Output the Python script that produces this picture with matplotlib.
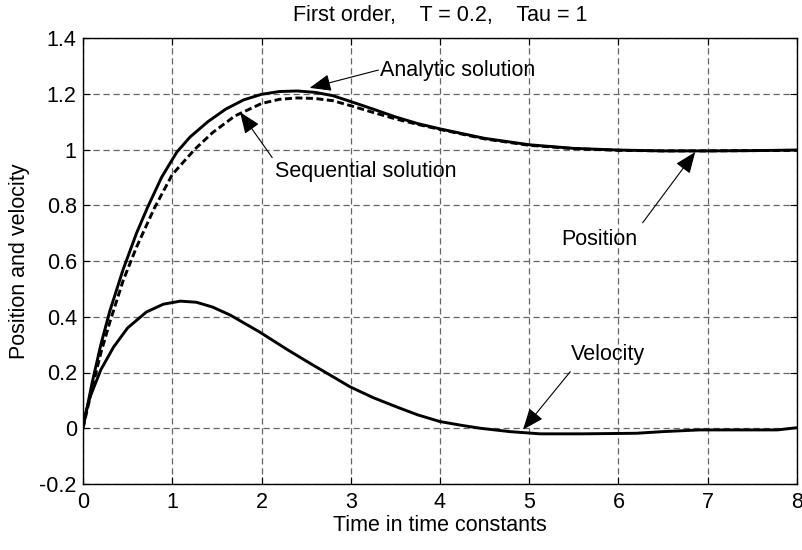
import matplotlib
matplotlib.use("Agg")
import matplotlib.pyplot as plt

plt.rcParams['font.family'] = ['Liberation Sans', 'DejaVu Sans']

# Data
t_pos = [0, 0.1, 0.2, 0.3, 0.45, 0.6, 0.72, 0.88, 1.05, 1.2, 1.4, 1.6, 1.8, 2.0, 2.2, 2.4,
         2.6, 2.8, 3.0, 3.25, 3.5, 3.75, 4.0, 4.5, 5.0, 5.5, 6.0, 6.5, 7.0, 7.5, 8.0]
pos_analytic = [0.0, 0.16, 0.30, 0.42, 0.57, 0.70, 0.79, 0.90, 0.99, 1.045, 1.10, 1.145,
                1.178, 1.198, 1.208, 1.21, 1.205, 1.193, 1.172, 1.145, 1.117, 1.093, 1.074,
                1.04, 1.017, 1.004, 0.998, 0.995, 0.995, 0.996, 0.998]
t_seq = [0, 0.1, 0.2, 0.3, 0.45, 0.6, 0.8, 1.0, 1.25, 1.45, 1.7, 2.0, 2.2, 2.4, 2.6, 2.8,
         3.0, 3.25, 3.5, 3.75, 4.0, 4.5, 5.0, 5.5, 6.0, 6.5, 7.0, 7.5, 8.0]
pos_sequential = [0.0, 0.14, 0.27, 0.38, 0.53, 0.65, 0.79, 0.91, 1.0, 1.06, 1.12, 1.165,
                  1.18, 1.185, 1.183, 1.175, 1.157, 1.133, 1.11, 1.09, 1.072, 1.038, 1.015,
                  1.003, 0.997, 0.995, 0.995, 0.996, 0.997]
t_vel = [0, 0.08, 0.2, 0.34, 0.5, 0.71, 0.9, 1.09, 1.27, 1.45, 1.65, 1.98, 2.3, 2.58, 2.8,
         2.99, 3.25, 3.51, 3.75, 4.0, 4.25, 4.45, 4.78, 5.12, 5.6, 6.2, 6.5, 6.91, 7.78, 8.0]
vel = [0.02, 0.113, 0.21, 0.29, 0.36, 0.417, 0.445, 0.456, 0.452, 0.435, 0.406, 0.345, 0.28,
       0.226, 0.185, 0.149, 0.11, 0.077, 0.048, 0.024, 0.01, 0.0, -0.012, -0.02, -0.02,
       -0.018, -0.012, -0.006, -0.006, 0.002]

title = "First order,    T = 0.2,    Tau = 1"
xlabel = "Time in time constants"
ylabel = "Position and velocity"
xticks = [0, 1, 2, 3, 4, 5, 6, 7, 8]
yticks = [-0.2, 0, 0.2, 0.4, 0.6, 0.8, 1, 1.2, 1.4]
ytick_labels = ["-0.2", "0", "0.2", "0.4", "0.6", "0.8", "1", "1.2", "1.4"]

# annotations: (label, arrow tip, arrow tail, text anchor, alignment)
notes = [
    ("Analytic solution", (2.54, 1.221), (3.31, 1.285), (3.33, 1.285), 'left'),
    ("Sequential solution", (1.76, 1.134), (2.12, 0.971), (2.15, 0.92), 'left'),
    ("Position", (6.86, 0.991), (6.27, 0.737), (5.79, 0.676), 'center'),
    ("Velocity", (4.93, -0.005), (5.46, 0.203), (5.88, 0.264), 'center'),
]

FS = 15.5

fig = plt.figure(figsize=(8.02, 5.5), dpi=100)
ax = fig.add_axes([83/802, 1 - 484/550, (797-83)/802, (484-38)/550])

ax.plot(t_pos, pos_analytic, color='black', lw=2.1, solid_joinstyle='round')
ax.plot(t_seq, pos_sequential, color='black', lw=2.1, ls=(0, (2.4, 1.2)))
ax.plot(t_vel, vel, color='black', lw=2.1, solid_joinstyle='round')

ax.set_xlim(0, 8)
ax.set_ylim(-0.2, 1.4)
ax.set_xticks(xticks)
ax.set_xticklabels([str(x) for x in xticks])
ax.set_yticks(yticks)
ax.set_yticklabels(ytick_labels)
ax.grid(True, color='#666666', ls=(0, (5, 3)), lw=0.9)
ax.tick_params(direction='in', length=5, labelsize=FS, width=0.8, top=True, right=True)
ax.tick_params(axis='x', pad=6)
ax.tick_params(axis='y', pad=4.5)
for s in ax.spines.values():
    s.set_linewidth(1.0)

ax.set_title(title, fontsize=FS, pad=12)
ax.set_xlabel(xlabel, fontsize=FS, labelpad=1.5)
ax.set_ylabel(ylabel, fontsize=FS, labelpad=7)

ap = dict(arrowstyle='-|>,head_length=0.55,head_width=0.22', color='black', lw=0.8,
          mutation_scale=24, shrinkA=0, shrinkB=0)
for label, tip, tail, txt, ha in notes:
    ax.annotate("", xy=tip, xytext=tail, arrowprops=ap)
    ax.text(txt[0], txt[1], label, fontsize=FS, ha=ha, va='center')

fig.savefig("out.png", dpi=100)
